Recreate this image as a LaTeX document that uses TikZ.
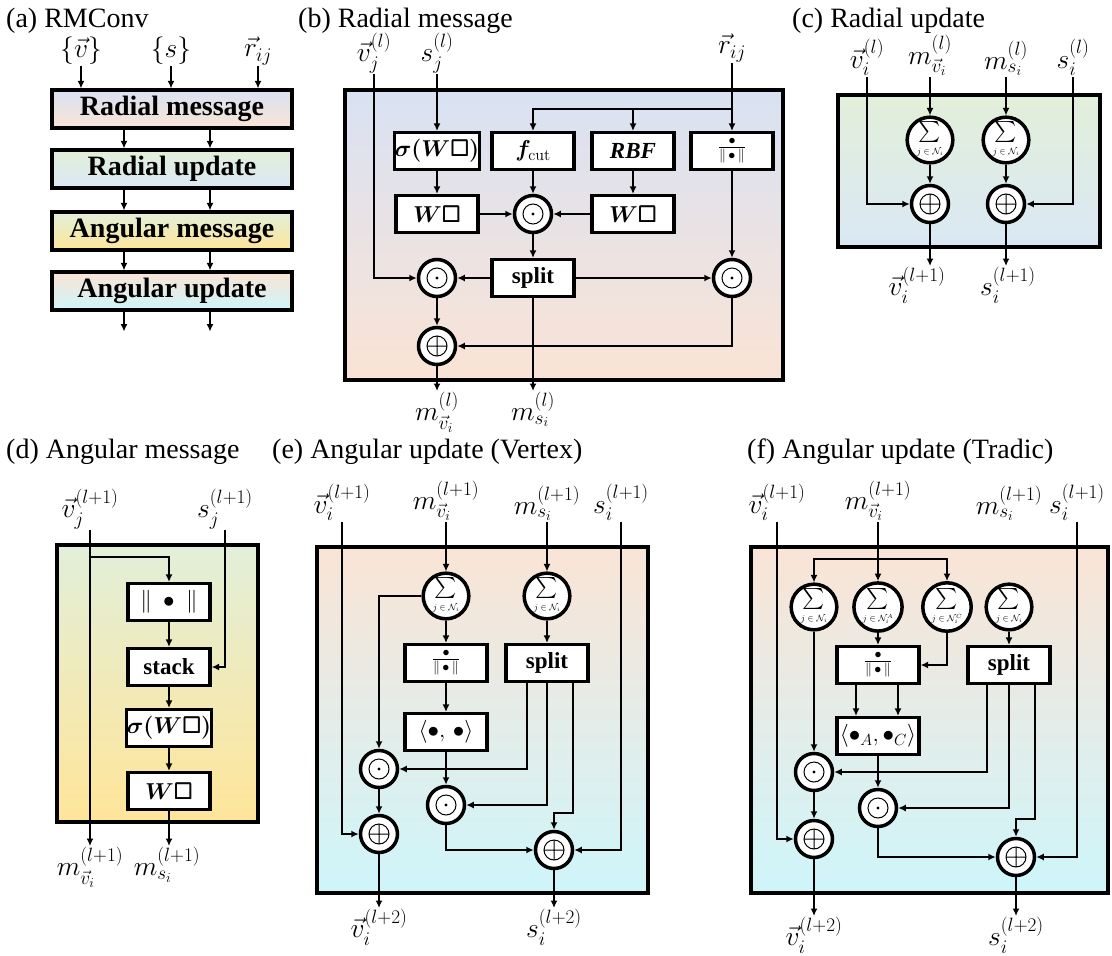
\RequirePackage{fix-cm}
\documentclass[tikz,border=0pt]{standalone}
\usepackage{amsmath,amssymb,bm}
\usepackage[no-math]{fontspec}
\setmainfont{Liberation Serif}
\usetikzlibrary{arrows.meta}
\definecolor{cb1}{RGB}{217,226,243}
\definecolor{cb2}{RGB}{250,227,213}
\definecolor{cc1}{RGB}{226,239,217}
\definecolor{cc2}{RGB}{218,232,245}
\definecolor{cd2}{RGB}{255,229,153}
\definecolor{ce1}{RGB}{250,228,214}
\definecolor{ce2}{RGB}{206,245,250}
\newcommand{\mysum}[1]{$\sum\limits_{\mbox{\fontsize{9}{9}\selectfont$j\in\mathcal{N}_i#1$}}$}
\newcommand{\mynorm}{{\fontsize{20}{20}\selectfont$\frac{\bullet}{\|\,\bullet\,\|}$}}
\begin{document}
\begin{tikzpicture}[x=1pt,y=-1pt,
  tit/.style={anchor=base west, font=\fontsize{28}{30}\selectfont, inner sep=0pt},
  lab/.style={font=\fontsize{27.5}{30}\selectfont, inner sep=1pt},
  bx/.style={draw, line width=3.2pt, fill=white, minimum width=82pt, minimum height=37pt, inner sep=0pt, font=\fontsize{23}{26}\selectfont\bfseries},
  abx/.style={draw, line width=3.2pt, minimum width=240pt, minimum height=38pt, inner sep=0pt, font=\fontsize{28}{30}\selectfont\bfseries},
  pan/.style={draw, line width=3.5pt},
  ring/.style={circle, draw, line width=3.5pt, fill=white, minimum size=37pt, inner sep=0pt},
  od/.style={ring, path picture={\draw[black, line width=1pt] (path picture bounding box.center) circle[radius=10pt]; \fill[black] (path picture bounding box.center) circle[radius=1.7pt];}},
  op/.style={ring, path picture={\draw[black, line width=1pt] (path picture bounding box.center) circle[radius=10pt] +(-10pt,0) -- +(10pt,0) +(0,-10pt) -- +(0,10pt);}},
  sm/.style={ring, font=\fontsize{21}{21}\selectfont},
  ar/.style={line width=2pt, -{Latex[length=7.5pt,width=7pt]}}]
\useasboundingbox (0,0) rectangle (1112,956);

% ---------------- (a)
\node[tit] at (6,27) {(a) RMConv};
\node[lab, anchor=south] (av) at (81,66) {$\{\vec{v}\}$};
\node[lab, anchor=south] (as) at (171,66) {$\{s\}$};
\node[lab, anchor=south] (ar) at (258,66) {$\vec{r}_{ij}$};
\node[abx, top color=cb1, bottom color=cb2] (A1) at (172,109) {Radial message};
\node[abx, top color=cc1, bottom color=cc2] (A2) at (172,169) {Radial update};
\node[abx, top color=cc1, bottom color=cd2] (A3) at (172,231) {Angular message};
\node[abx, top color=ce1, bottom color=ce2] (A4) at (172,291) {Angular update};
\draw[ar] (av.south) -- (av.south |- A1.north);
\draw[ar] (as.south) -- (as.south |- A1.north);
\draw[ar] (ar.south) -- (ar.south |- A1.north);
\foreach \a/\b in {A1/A2,A2/A3,A3/A4}{
  \draw[ar] ([xshift=-48pt]\a.south) -- ([xshift=-48pt]\b.north);
  \draw[ar] ([xshift=38pt]\a.south) -- ([xshift=38pt]\b.north);
}
\draw[ar] ([xshift=-48pt]A4.south) -- ++(0,20);
\draw[ar] ([xshift=38pt]A4.south) -- ++(0,20);

% ---------------- (b)
\node[tit] at (298,27) {(b) Radial message};
\path[pan, top color=cb1, bottom color=cb2] (345,90) rectangle (783,380);
\node[lab, anchor=south] (vj) at (374,74) {$\vec{v}_j^{(l)}$};
\node[lab, anchor=south] (sj) at (437,74) {$s_j^{(l)}$};
\node[lab, anchor=south] (rij) at (732,63) {$\vec{r}_{ij}$};
\node[bx] (sig) at (437,151) {$\bm{\sigma(W\square)}$};
\node[bx] (fc) at (533,151) {$\bm{f}_{\mathrm{cut}}$};
\node[bx] (rbf) at (633,151) {\textit{RBF}};
\node[bx] (nrm) at (732,151) {\mynorm};
\node[bx] (w1) at (437,214) {$\bm{W\square}$};
\node[od] (om) at (533,214) {};
\node[bx] (w2) at (633,214) {$\bm{W\square}$};
\node[bx] (spl) at (533,278) {split};
\node[od] (ol) at (437,278) {};
\node[od] (or) at (732,278) {};
\node[op] (pl) at (437,346) {};
\coordinate (br) at (732,109);
\node[lab, anchor=north] (mvo) at (437,391) {$m_{\vec{v}_i}^{(l)}$};
\node[lab, anchor=north] (mso) at (533,391) {$m_{s_i}^{(l)}$};
\draw[ar] (sj) -- (sig);
\draw[ar] (sig) -- (w1);
\draw[ar] (w1) -- (om);
\draw[ar] (w2) -- (om);
\draw[ar] (fc) -- (om);
\draw[ar] (rbf) -- (w2);
\draw[ar] (om) -- (spl);
\draw[ar] (spl) -- (ol);
\draw[ar] (spl) -- (or);
\draw[ar] (nrm) -- (or);
\draw[ar] (ol) -- (pl);
\draw[ar] (or.south) |- (pl.east);
\draw[ar] (vj.south) |- (ol.west);
\draw[ar] (rij) -- (nrm);
\draw[ar] (br) -| (fc.north);
\draw[ar] (br -| rbf.north) -- (rbf.north);
\draw[ar] (pl) -- (mvo);
\draw[ar] (spl) -- (mso);

% ---------------- (c)
\node[tit] at (792,27) {(c) Radial update};
\path[pan, top color=cc1, bottom color=cc2] (838,95) rectangle (1100,247);
\node[lab, anchor=south] (cvi) at (867,77) {$\vec{v}_i^{(l)}$};
\node[lab, anchor=south] (cmv) at (930,77) {$m_{\vec{v}_i}^{(l)}$};
\node[lab, anchor=south] (cms) at (1006,77) {$m_{s_i}^{(l)}$};
\node[lab, anchor=south] (csi) at (1073,77) {$s_i^{(l)}$};
\node[sm] (cs1) at (930,140) {\mysum{}};
\node[sm] (cs2) at (1006,140) {\mysum{}};
\node[op] (cp1) at (930,204) {};
\node[op] (cp2) at (1006,204) {};
\node[lab, anchor=north] (cvo) at (917,266) {$\vec{v}_i^{(l+1)}$};
\node[lab, anchor=north] (cso) at (1008,266) {$s_i^{(l+1)}$};
\draw[ar] (cmv) -- (cs1);
\draw[ar] (cms) -- (cs2);
\draw[ar] (cs1) -- (cp1);
\draw[ar] (cs2) -- (cp2);
\draw[ar] (cvi.south) |- (cp1.west);
\draw[ar] (csi.south) |- (cp2.east);
\draw[ar] (cp1.south) -- (cp1.south |- cvo.north);
\draw[ar] (cp2.south) -- (cp2.south |- cso.north);

% ---------------- (d)
\node[tit] at (6,458) {(d) Angular message};
\path[pan, top color=cc1, bottom color=cd2] (57,545) rectangle (258,822);
\node[lab, anchor=south] (dvj) at (90,530) {$\vec{v}_j^{(l+1)}$};
\node[lab, anchor=south] (dsj) at (225,530) {$s_j^{(l+1)}$};
\node[bx] (dn) at (169,602) {$\|\;\bullet\;\|$};
\node[bx] (dst) at (169,667) {stack};
\node[bx] (dsg) at (169,728) {$\bm{\sigma(W\square)}$};
\node[bx] (dw) at (169,791) {$\bm{W\square}$};
\coordinate (dbr) at (90,557);
\node[lab, anchor=north] (dmv) at (90,846) {$m_{\vec{v}_i}^{(l+1)}$};
\node[lab, anchor=north] (dms) at (167,846) {$m_{s_i}^{(l+1)}$};
\draw[ar] (dvj) -- (dmv);
\draw[ar] (dbr) -| (dn.north);
\draw[ar] (dn) -- (dst);
\draw[ar] (dst) -- (dsg);
\draw[ar] (dsg) -- (dw);
\draw[ar] (dw.south) -- (dw.south |- dms.north);
\draw[ar] (dsj.south) |- (dst.east);

% ---------------- (e)
\node[tit] at (272,458) {(e) Angular update (Vertex)};
\path[pan, top color=ce1, bottom color=ce2] (317,547) rectangle (648,893);
\node[lab, anchor=south] (evi) at (342,522) {$\vec{v}_i^{(l+1)}$};
\node[lab, anchor=south] (emv) at (446,522) {$m_{\vec{v}_i}^{(l+1)}$};
\node[lab, anchor=south] (ems) at (547,522) {$m_{s_i}^{(l+1)}$};
\node[lab, anchor=south] (esi) at (621,522) {$s_i^{(l+1)}$};
\node[sm] (es1) at (446,596) {\mysum{}};
\node[sm] (es2) at (547,596) {\mysum{}};
\node[bx] (en) at (446,663) {\mynorm};
\node[bx] (esp) at (547,663) {split};
\node[bx] (eip) at (446,732) {$\langle\bullet,\,\bullet\rangle$};
\node[od] (eo1) at (379,769) {};
\node[od] (eo2) at (446,805) {};
\node[op] (ep1) at (379,834) {};
\node[op] (ep2) at (554,850) {};
\node[lab, anchor=north] (evo) at (379,908) {$\vec{v}_i^{(l+2)}$};
\node[lab, anchor=north] (eso) at (554,908) {$s_i^{(l+2)}$};
\draw[ar] (emv) -- (es1);
\draw[ar] (ems) -- (es2);
\draw[ar] (es1) -- (en);
\draw[ar] (en) -- (eip);
\draw[ar] (eip) -- (eo2);
\draw[ar] (es2) -- (esp);
\draw[ar] (es1.west) -| (eo1.north);
\draw[ar] ([xshift=-20pt]esp.south) |- (eo1.east);
\draw[ar] (esp.south) |- (eo2.east);
\draw[ar] ([xshift=26pt]esp.south) |- ([yshift=17pt]ep2.north) -- (ep2.north);
\draw[ar] (eo1) -- (ep1);
\draw[ar] (evi.south) |- (ep1.west);
\draw[ar] (eo2.south) |- (ep2.west);
\draw[ar] (esi.south) |- (ep2.east);
\draw[ar] (ep1) -- (evo);
\draw[ar] (ep2) -- (eso);

% ---------------- (f)
\node[tit] at (747,458) {(f) Angular update (Tradic)};
\path[pan, top color=ce1, bottom color=ce2] (751,547) rectangle (1108,893);
\node[lab, anchor=south] (fvi) at (777,522) {$\vec{v}_i^{(l+1)}$};
\node[lab, anchor=south] (fmv) at (878,522) {$m_{\vec{v}_i}^{(l+1)}$};
\node[lab, anchor=south] (fms) at (1009,522) {$m_{s_i}^{(l+1)}$};
\node[lab, anchor=south] (fsi) at (1077,522) {$s_i^{(l+1)}$};
\node[sm] (fs1) at (814,607) {\mysum{}};
\node[sm] (fs2) at (878,607) {\mysum{^A}};
\node[sm] (fs3) at (947,607) {\mysum{^C}};
\node[sm] (fs4) at (1009,607) {\mysum{}};
\coordinate (fbr) at (878,559);
\node[bx] (fn) at (878,665) {\mynorm};
\node[bx] (fsp) at (1009,665) {split};
\node[bx] (fip) at (878,736) {$\langle\bullet_A,\bullet_C\rangle$};
\node[od] (fo1) at (814,772) {};
\node[od] (fo2) at (878,808) {};
\node[op] (fp1) at (814,839) {};
\node[op] (fp2) at (1016,857) {};
\node[lab, anchor=north] (fvo) at (814,916) {$\vec{v}_i^{(l+2)}$};
\node[lab, anchor=north] (fso) at (1016,916) {$s_i^{(l+2)}$};
\draw[ar] (fmv) -- (fs2);
\draw[ar] (fbr) -| (fs1.north);
\draw[ar] (fbr) -| (fs3.north);
\draw[ar] (fs1) -- (fo1);
\draw[ar] (fs2) -- (fn);
\draw[ar] (fs3.south) |- (fn.east);
\draw[ar] ([xshift=-22pt]fn.south) -- ([xshift=-22pt]fip.north);
\draw[ar] ([xshift=20pt]fn.south) -- ([xshift=20pt]fip.north);
\draw[ar] (fip) -- (fo2);
\draw[ar] (fs4) -- (fsp);
\draw[ar] ([xshift=-22pt]fsp.south) |- (fo1.east);
\draw[ar] (fsp.south) |- (fo2.east);
\draw[ar] ([xshift=26pt]fsp.south) |- ([yshift=18pt]fp2.north) -- (fp2.north);
\draw[ar] (fo1) -- (fp1);
\draw[ar] (fvi.south) |- (fp1.west);
\draw[ar] (fo2.south) |- (fp2.west);
\draw[ar] (fsi.south) |- (fp2.east);
\draw[ar] (fp1) -- (fvo);
\draw[ar] (fp2) -- (fso);
\end{tikzpicture}
\end{document}
